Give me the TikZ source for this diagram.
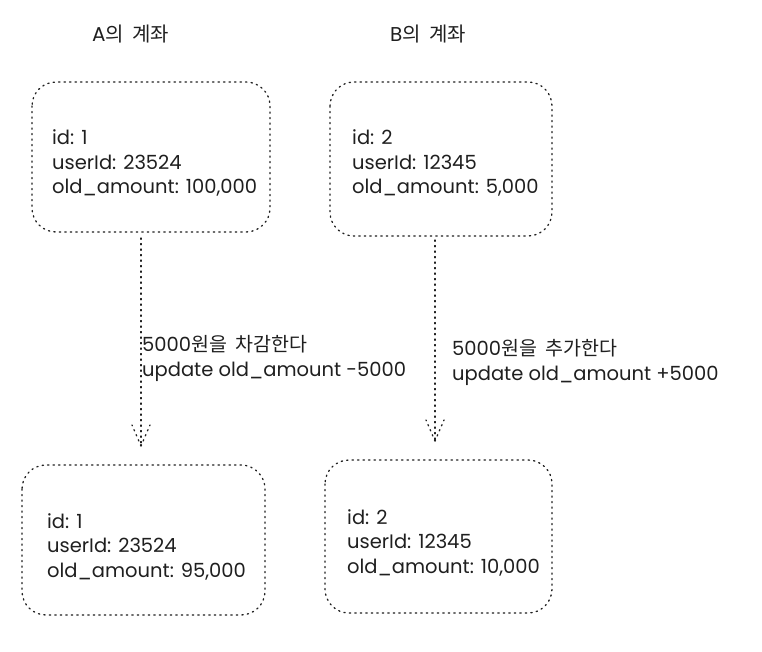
\documentclass[tikz,border=0pt]{standalone}
\usepackage{fontspec}
\setmainfont{Poppins}
\newfontfamily\kr{Noto Sans CJK KR}
\begin{document}
\begin{tikzpicture}[x=1pt,y=-1pt,
  ink/.style={draw=black!88, line width=1.3pt, dash pattern=on 1.3pt off 4.2pt, line cap=round},
  acct/.style={ink, rounded corners=24pt},
  txt/.style={font=\fontsize{19.5}{24.5}\selectfont, text=black!88, align=left, anchor=base west, inner sep=0pt},
  ttl/.style={font=\fontsize{20}{20}\selectfont, text=black!88, anchor=base west, inner sep=0pt}]
\useasboundingbox (0,0) rectangle (762,652);
% titles
\node[ttl] (ta) at (92,42) {A{\kr 의\hspace{4pt} 계좌}};
\node[ttl] (tb) at (390,42) {B{\kr 의\hspace{4pt} 계좌}};
% boxes
\draw[acct] (32,82) rectangle (270,232);
\draw[acct] (330,82) rectangle (552,236);
\draw[acct] (22,465) rectangle (265,615);
\draw[acct] (325,460) rectangle (552,613);
% texts (anchor = baseline of last line)
\node[txt] (at) at (52,194) {id: 1\\userId: 23524\\old\_amount: 100,000};
\node[txt] (bt) at (352,194) {id: 2\\userId: 12345\\old\_amount: 5,000};
\node[txt] (ab) at (47,577) {id: 1\\userId: 23524\\old\_amount: 95,000};
\node[txt] (bb) at (347,573) {id: 2\\userId: 12345\\old\_amount: 10,000};
% arrows
\coordinate (as) at (141,238);
\coordinate (ae) at (141,446);
\coordinate (bs) at (435,240);
\coordinate (be) at (435,441);
\draw[ink] (as) -- (ae);
\draw[ink] (ae) -- ++(-9,-21);
\draw[ink] (ae) -- ++(9,-21);
\draw[ink] (bs) -- (be);
\draw[ink] (be) -- ++(-9,-21);
\draw[ink] (be) -- ++(9,-21);
% labels
\node[txt] (la) at (142,376) {5000{\kr 원을\hspace{4pt} 차감한다}\\update old\_amount -5000};
\node[txt] (lb) at (452,380) {5000{\kr 원을\hspace{4pt} 추가한다}\\update old\_amount +5000};
\end{tikzpicture}
\end{document}
